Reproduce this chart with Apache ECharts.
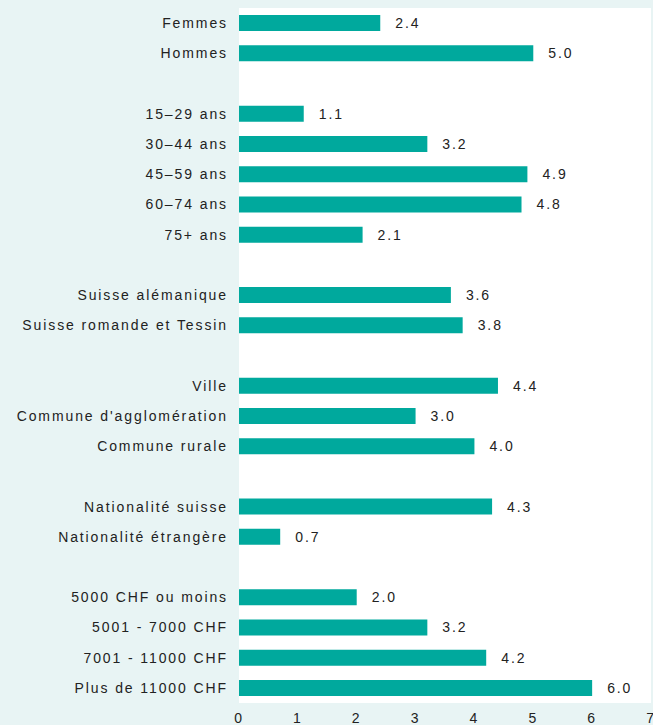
<!DOCTYPE html>
<html>
<head>
<meta charset="utf-8">
<script src="https://cdn.jsdelivr.net/npm/echarts@6/dist/echarts.min.js"></script>
<style>
  html, body { margin: 0; padding: 0; background: #e8f4f4; }
  #chart { width: 653px; height: 725px; }
  /* the source uses tracked Helvetica */
  #chart text { letter-spacing: 1.9px; }
</style>
</head>
<body>
<div id="chart"></div>
<script>
// Categories (blank rows separate the groups)
const categories = [
  'Femmes', 'Hommes', ' ',
  '15–29 ans', '30–44 ans', '45–59 ans', '60–74 ans', '75+ ans', '  ',
  'Suisse alémanique', 'Suisse romande et Tessin', '   ',
  'Ville', "Commune d'agglomération", 'Commune rurale', '    ',
  'Nationalité suisse', 'Nationalité étrangère', '     ',
  '5000 CHF ou moins', '5001 - 7000 CHF', '7001 - 11000 CHF', 'Plus de 11000 CHF'
];

const values = [
  2.4, 5.0, null,
  1.1, 3.2, 4.9, 4.8, 2.1, null,
  3.6, 3.8, null,
  4.4, 3.0, 4.0, null,
  4.3, 0.7, null,
  2.0, 3.2, 4.2, 6.0
];

const xTicks = [0, 7, 1]; // min, max, interval

const chart = echarts.init(document.getElementById('chart'), null, { renderer: 'svg' });

chart.setOption({
  backgroundColor: '#e8f4f4',
  textStyle: { fontFamily: 'Liberation Sans, Arial, sans-serif' },
  grid: {
    show: true,
    backgroundColor: '#ffffff',
    borderWidth: 0,
    left: 239, right: 2, top: 8, bottom: 22,
    containLabel: false,
    outerBoundsMode: 'none'
  },
  xAxis: {
    type: 'value',
    min: xTicks[0],
    max: xTicks[1],
    interval: xTicks[2],
    axisLine: { show: false },
    axisTick: { show: false },
    splitLine: { show: false },
    axisLabel: { color: '#222', fontSize: 14, margin: 8 }
  },
  yAxis: {
    type: 'category',
    inverse: true,
    data: categories,
    axisLine: { show: false },
    axisTick: { show: false },
    axisLabel: { color: '#222', fontSize: 14, margin: 11 }
  },
  series: [{
    type: 'bar',
    data: values,
    barWidth: 16,
    itemStyle: { color: '#00a99d' },
    label: {
      show: true,
      position: 'right',
      distance: 15,
      color: '#222',
      fontSize: 14,
      formatter: p => p.value == null ? '' : p.value.toFixed(1)
    },
    animation: false
  }]
});
</script>
</body>
</html>
